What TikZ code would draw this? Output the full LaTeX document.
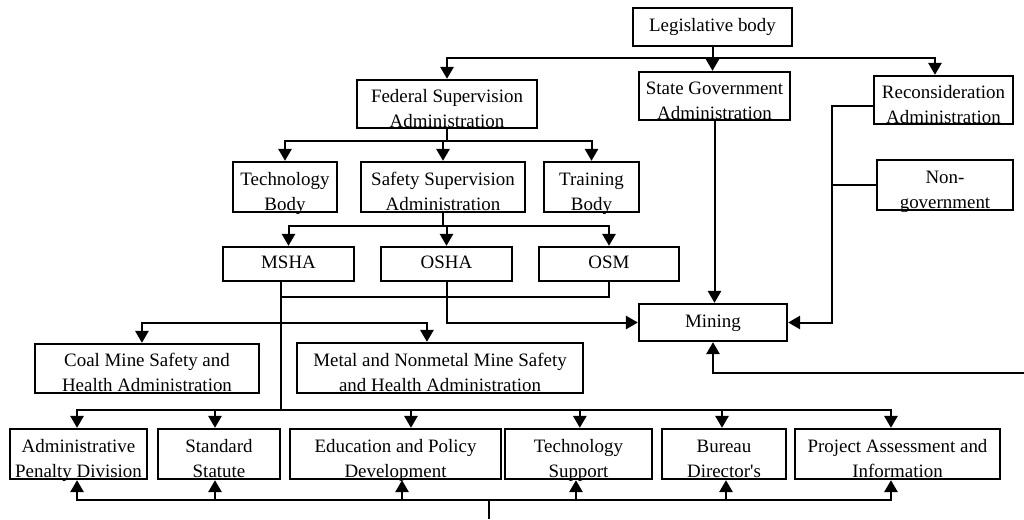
\documentclass[tikz,border=0pt]{standalone}
\usepackage{fontspec}
\setmainfont{Liberation Serif}
\usetikzlibrary{calc,positioning,arrows.meta}

\begin{document}
\begin{tikzpicture}[x=0.75pt, y=-0.75pt]
\tikzstyle{box}=[rectangle, draw, line width=1.8pt, fill=white,
                        inner xsep=2pt, inner ysep=0pt, align=center,
                        font=\fontsize{14.2}{18.75}\selectfont]
\tikzstyle{one}=[text height=10pt, text depth=3pt]
\tikzstyle{two}=[text height=35.5pt, text depth=0.5pt]
\tikzstyle{ln}=[line width=1.5pt]
\tikzstyle{arr}=[ln, -{Triangle[width=10pt,length=9pt]}]
\tikzset{bw/.style={minimum width=#1*0.75pt}, bh/.style={minimum height=#1*0.75pt}}

\useasboundingbox (0,0) rectangle (1024,519);

\node[box, one, bw=159, bh=38] (leg) at (712.5,27) {Legislative body};
\node[box, two, bw=180, bh=48] (fed) at (447,104) {Federal Supervision\\Administration};
\node[box, two, bw=151, bh=48] (state) at (714.5,96) {State Government\\Administration};
\node[box, two, bw=139, bh=48] (recon) at (943.5,100) {Reconsideration\\Administration};
\node[box, two, bw=104, bh=50] (techbody) at (285,187) {Technology\\Body};
\node[box, two, bw=164, bh=50] (safety) at (443,187) {Safety Supervision\\Administration};
\node[box, two, bw=95, bh=50] (training) at (591.5,187) {Training\\Body};
\node[box, two, bw=136, bh=50] (nongov) at (945,185) {Non-\\government};
\node[box, one, bw=131, bh=34] (msha) at (288.5,264) {MSHA};
\node[box, one, bw=131, bh=34] (osha) at (446.5,264) {OSHA};
\node[box, one, bw=140, bh=34] (osm) at (609,264) {OSM};
\node[box, one, bw=148, bh=37] (mining) at (713,322.5) {Mining};
\node[box, two, bw=224, bh=49] (coal) at (147,368.5) {Coal Mine Safety and\\Health Administration};
\node[box, two, bw=286, bh=50] (metal) at (440,368) {Metal and Nonmetal Mine Safety\\and Health Administration};
\node[box, two, bw=137, bh=50] (penalty) at (78.5,454) {Administrative\\Penalty Division};
\node[box, two, bw=122, bh=50] (statute) at (219,454) {Standard\\Statute};
\node[box, two, bw=211, bh=50] (edu) at (395.5,454) {Education and Policy\\Development};
\node[box, two, bw=147, bh=50] (techsup) at (578.5,454) {Technology\\Support};
\node[box, two, bw=124, bh=50] (bureau) at (724,454) {Bureau\\Director\textquotesingle s};
\node[box, two, bw=205, bh=50] (project) at (897.5,454) {Project Assessment and\\Information};

% top levels
\draw[arr] (leg.south) -- ++(0,11) -| (fed.north);
\draw[arr] (leg.south) -- (leg.south |- state.north);
\draw[arr] (leg.south) -- ++(0,11) -| ([xshift=-6.4pt]recon.north);
\foreach \b in {techbody,safety,training}{\draw[arr] (fed.south) -- ++(0,12) -| (\b.north);}
\foreach \b in {msha,osha,osm}{\draw[arr] (safety.south) -- ++(0,13) -| (\b.north);}
%\draw[arr] (fed.south) -- (safety.north);

% MSHA trunk
\coordinate (trunk) at ([xshift=-6pt]msha.south);
\path (trunk) ++(0,15) coordinate (osmjoin);
\path (trunk) ++(0,41) coordinate (split);
\path (trunk) ++(0,128) coordinate (bus);
\draw[ln] (trunk) -- (bus);
\draw[ln] (osm.south) |- (osmjoin);
\draw[arr] (split) -| ([xshift=-3.8pt]coal.north);
\draw[arr] (split) -| ([xshift=-9.8pt]metal.north);
\foreach \b/\dx in {penalty/-1.1,statute/-3,edu/11.6,techsup/1,bureau/-1.5,project/-4.9}{\draw[arr] (bus) -| ([xshift=\dx pt]\b.north);}

% feed from below
\coordinate (base) at (489,519);
\path (base) ++(0,-19) coordinate (feed);
\draw[ln] (base) -- (feed);
\foreach \b/\dx in {penalty/-1.1,statute/-3,edu/4.9,techsup/-1.9,bureau/1.5,project/-4.9}{\draw[arr] (feed) -| ([xshift=\dx pt]\b.south);}

% into mining
\draw[arr] (osha.south) |- (mining.west);
\draw[arr] (state.south) -- (state.south |- mining.north);
\draw[arr] ([yshift=-4.5pt]recon.west) -- ++(-41,0) |- (mining.east);
\draw[ln] (nongov.west) -- ++(-44,0);
\coordinate (edge) at (1024,373);
\draw[arr] (edge) -| (mining.south);
%\draw (recon.west) -- (nongov.west);
\end{tikzpicture}
\end{document}
